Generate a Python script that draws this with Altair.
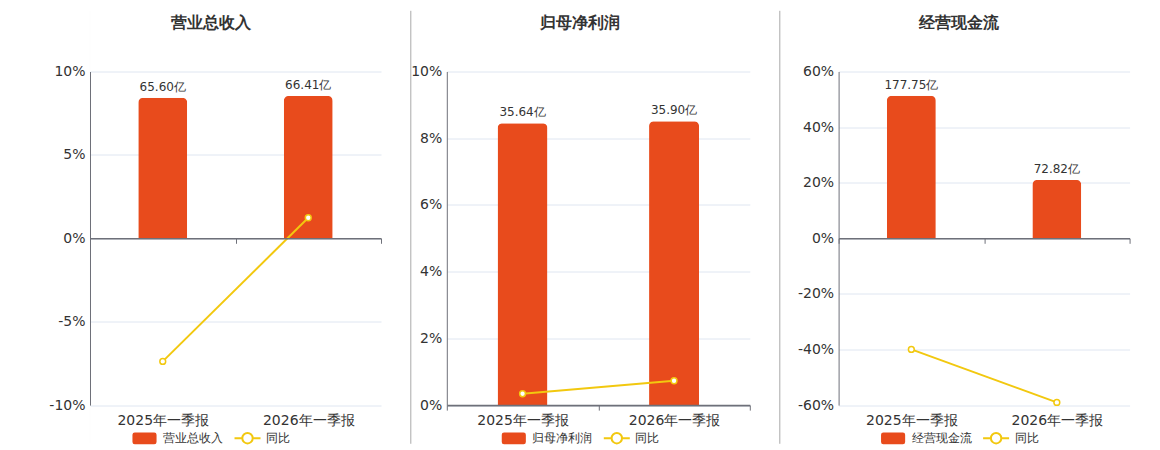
import altair as alt
import pandas as pd

categories = ["2025年一季报", "2026年一季报"]
titles = ["营业总收入", "归母净利润", "经营现金流"]
rev_values = [65.60, 66.41]
rev_yoy = [-7.38, 1.23]
profit_values = [35.64, 35.90]
profit_yoy = [0.34, 0.73]
cash_values = [177.75, 72.82]
cash_yoy = [-39.96, -59.03]
rev_ticks = [-10, -5, 0, 5, 10]
profit_ticks = [0, 2, 4, 6, 8, 10]
cash_ticks = [-60, -40, -20, 0, 20, 40, 60]
yoy_name = "同比"

BAR = "#E84B1C"
LINE = "#F2C80F"
TXT = "#333333"
AXC = "#6E7079"
GRID = "#E0E6F1"
FONT = "DejaVu Sans"
H = 333.6

RECT = ("M-0.75,-0.38L0.75,-0.38Q0.85,-0.38 0.85,-0.28L0.85,0.28Q0.85,0.38 0.75,0.38"
        "L-0.75,0.38Q-0.85,0.38 -0.85,0.28L-0.85,-0.28Q-0.85,-0.38 -0.75,-0.38Z")
LSYM = ("M-1,0L-0.4,0M0.4,0L1,0M-0.4,0A0.4,0.4 0 1,0 0.4,0A0.4,0.4 0 1,0 -0.4,0Z")


def panel(title, values, yoy, ticks, ydom, bdom, W, bw, minext, zero_off,
          title_x, legend_x, sep_x, sep_visible):
    df = pd.DataFrame({
        "cat": categories,
        "v": values,
        "yoy": yoy,
        "lab": [f"{v:.2f}亿" for v in values],
    })
    band = alt.Scale(paddingInner=0, paddingOuter=0)
    zero_axis = alt.Axis(orient="bottom", offset=zero_off, labels=False, title=None,
                         grid=False, domain=True, domainColor=AXC, domainWidth=1.6,
                         ticks=True, tickColor=AXC, tickSize=5, tickWidth=1,
                         tickBand="extent", zindex=1)
    xb = alt.X("cat:N", sort=categories, scale=band, axis=zero_axis)
    yb = alt.Y("v:Q", scale=alt.Scale(domain=bdom, nice=False, zero=False), axis=None)
    bars = alt.Chart(df).mark_bar(color=BAR, size=bw, cornerRadiusTopLeft=5,
                                  cornerRadiusTopRight=5).encode(x=xb, y=yb)
    labels = alt.Chart(df).mark_text(dy=-7, baseline="alphabetic", fontSize=12,
                                     color=TXT, font=FONT).encode(
        x=xb, y=yb, text="lab:N")

    xl = alt.X("cat:N", sort=categories, scale=band,
               axis=alt.Axis(orient="bottom", title=None, domain=False, ticks=False,
                             labelAngle=0, labelFontSize=14, labelColor=TXT,
                             labelFont=FONT, labelPadding=8, grid=False))
    yl = alt.Y("yoy:Q", scale=alt.Scale(domain=ydom, nice=False, zero=False),
               axis=alt.Axis(orient="left", title=None, values=ticks,
                             labelExpr="datum.value + '%'",
                             labelFontSize=14, labelColor=TXT, labelFont=FONT,
                             labelPadding=5, ticks=False, tickSize=0, domain=True,
                             domainColor=AXC, grid=True, gridColor=GRID,
                             minExtent=minext, maxExtent=minext))
    line = alt.Chart(df).mark_line(color=LINE, strokeWidth=2).encode(x=xl, y=yl)
    pts = alt.Chart(df).mark_point(filled=True, fill="white", stroke=LINE, strokeWidth=1.5,
                                   size=34, opacity=1).encode(x=xl, y=yl)

    dom = [title, yoy_name]
    leg = alt.Legend(title=None, orient="none", legendX=legend_x, legendY=352.3,
                     direction="horizontal", symbolSize=676, symbolStrokeWidth=2,
                     symbolFillColor="white", labelFontSize=12, labelColor=TXT,
                     labelFont=FONT, labelOffset=4.5, columnPadding=7, padding=0,
                     symbolOpacity=1)
    dummy = alt.Chart(pd.DataFrame({"s": dom})).transform_filter("false").mark_point(
        strokeWidth=2, opacity=1).encode(
        fill=alt.Fill("s:N", scale=alt.Scale(domain=dom, range=[BAR, "white"]), legend=leg),
        stroke=alt.Stroke("s:N", scale=alt.Scale(domain=dom, range=[BAR, LINE]), legend=leg),
        shape=alt.Shape("s:N", scale=alt.Scale(domain=dom, range=[RECT, LSYM]), legend=leg),
    )

    ttl = alt.Chart(pd.DataFrame({"t": [title]})).mark_text(
        fontSize=16, fontWeight="bold", color=TXT, font=FONT, align="center",
        baseline="middle").encode(text="t:N", x=alt.value(title_x), y=alt.value(-48))

    sep = alt.Chart(pd.DataFrame({"a": [0]})).mark_rule(
        color="#AAAAAA", strokeWidth=1, strokeOpacity=1 if sep_visible else 0.01).encode(
        x=alt.value(sep_x), y=alt.value(-60.7), y2=alt.value(372.3))

    return alt.layer(alt.layer(bars, labels), alt.layer(line, pts), dummy, ttl, sep).resolve_scale(
        x="independent", y="independent").properties(width=W, height=H)


p1 = panel(titles[0], rev_values, rev_yoy, rev_ticks, [-10, 10], [-77.8, 77.8],
           291, 49, 82, -H / 2, 120.7, 40.5, 0, False)
p2 = panel(titles[1], profit_values, profit_yoy, profit_ticks, [0, 10], [0, 42.2],
           303, 50, 45, 0, 133.3, 53, -36, True)
p3 = panel(titles[2], cash_values, cash_yoy, cash_ticks, [-60, 60], [-208, 208],
           291, 49, 68, -H / 2, 120.7, 40.5, -58.8, True)

chart = alt.hconcat(p1, p2, p3, spacing=19.8).resolve_scale(
    x="independent", y="independent", fill="independent", stroke="independent",
    shape="independent").properties(
    padding={"left": 0, "top": 1.5, "right": 0, "bottom": 0},
    background="white").configure(font=FONT).configure_view(
    stroke="transparent", strokeWidth=0)

chart.save("out.html", embed_options={"renderer": "svg", "actions": False})
